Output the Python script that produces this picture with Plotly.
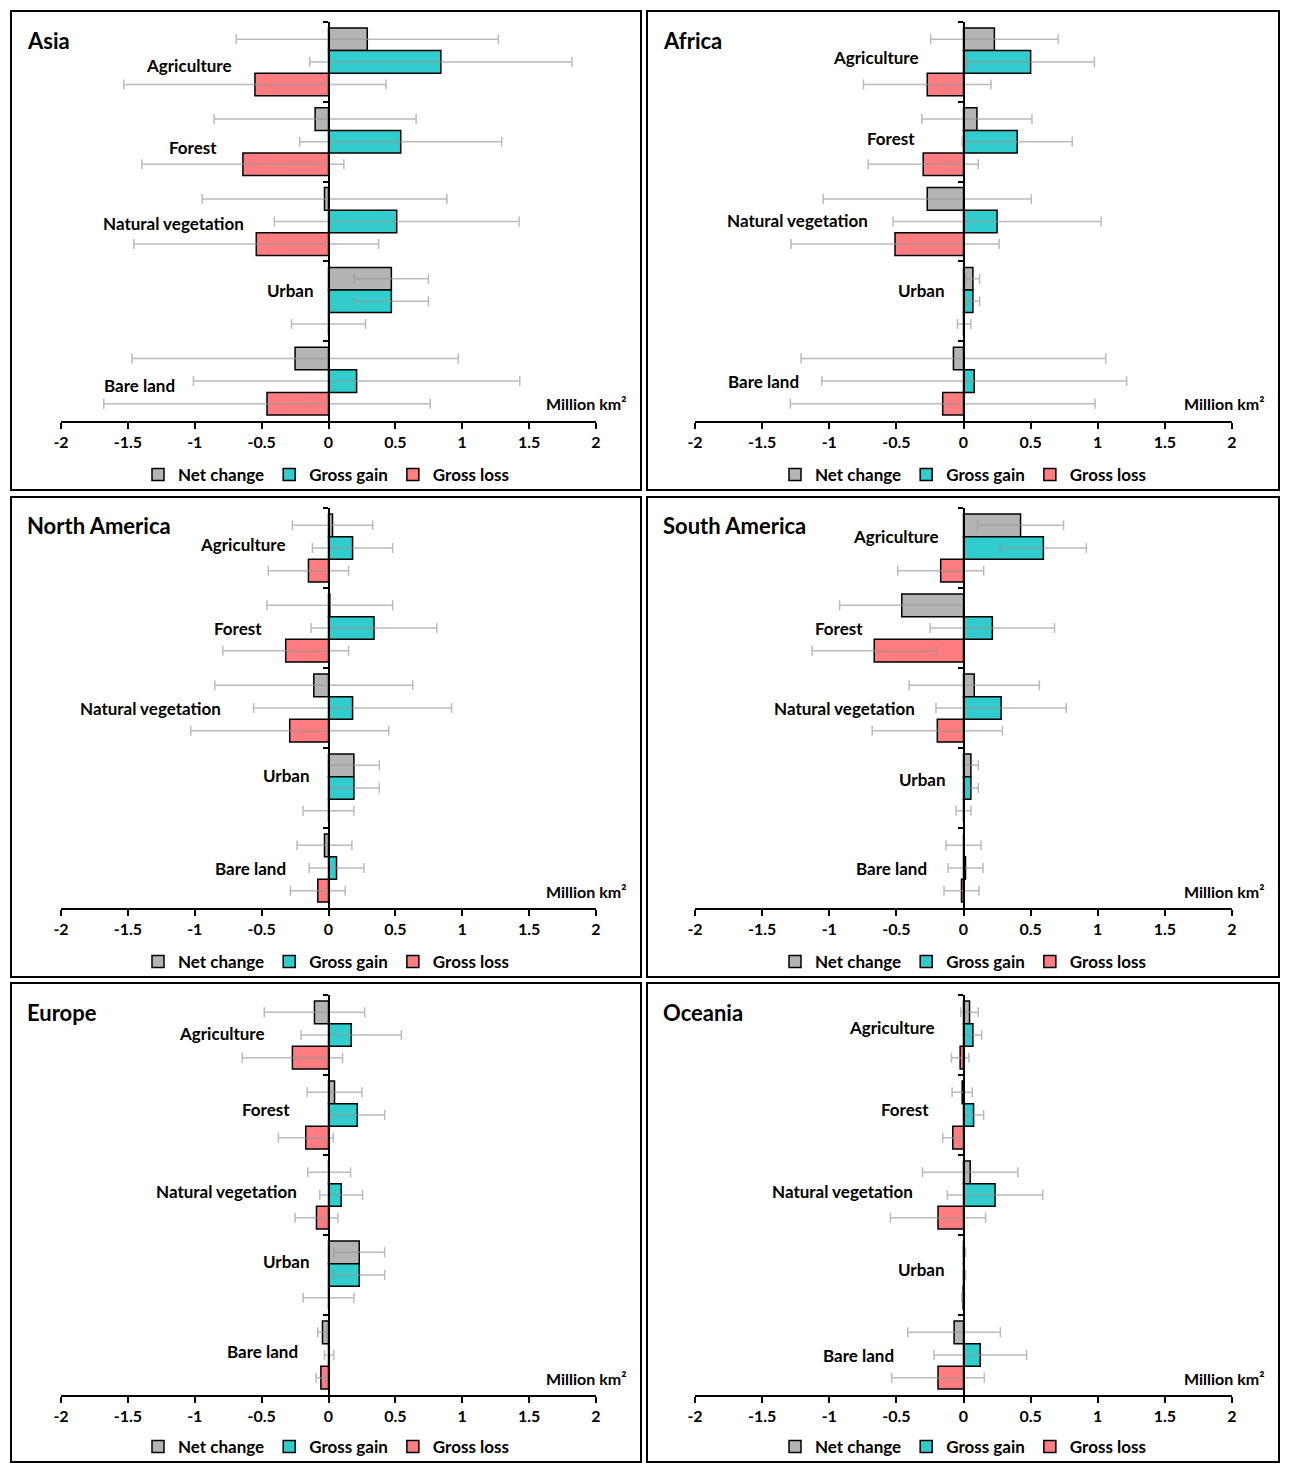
import plotly.graph_objects as go

# ---------------- data ----------------
categories = ["Agriculture", "Forest", "Natural vegetation", "Urban", "Bare land"]
regions = ["Asia", "Africa", "North America", "South America", "Europe", "Oceania"]
series_names = ["Net change", "Gross gain", "Gross loss"]

net_change = {
    "Asia": [0.29, -0.10, -0.03, 0.47, -0.25],
    "Africa": [0.23, 0.10, -0.27, 0.07, -0.075],
    "North America": [0.03, 0.01, -0.11, 0.19, -0.03],
    "South America": [0.425, -0.46, 0.08, 0.055, 0.0],
    "Europe": [-0.105, 0.045, 0.005, 0.23, -0.045],
    "Oceania": [0.045, -0.01, 0.05, 0.005, -0.07],
}
gross_gain = {
    "Asia": [0.84, 0.54, 0.51, 0.47, 0.21],
    "Africa": [0.50, 0.40, 0.25, 0.07, 0.08],
    "North America": [0.18, 0.34, 0.18, 0.19, 0.06],
    "South America": [0.595, 0.215, 0.28, 0.055, 0.015],
    "Europe": [0.17, 0.215, 0.095, 0.23, 0.005],
    "Oceania": [0.07, 0.075, 0.235, 0.005, 0.125],
}
gross_loss = {
    "Asia": [-0.55, -0.64, -0.54, 0.0, -0.46],
    "Africa": [-0.27, -0.30, -0.51, 0.005, -0.155],
    "North America": [-0.15, -0.32, -0.29, 0.0, -0.08],
    "South America": [-0.17, -0.665, -0.195, 0.0, -0.015],
    "Europe": [-0.27, -0.17, -0.09, 0.0, -0.057],
    "Oceania": [-0.025, -0.08, -0.19, -0.003, -0.19],
}
uncertainty = {
    "Asia": [0.98, 0.755, 0.915, 0.277, 1.22],
    "Africa": [0.475, 0.41, 0.775, 0.05, 1.135],
    "North America": [0.30, 0.47, 0.74, 0.19, 0.205],
    "South America": [0.32, 0.463, 0.485, 0.055, 0.13],
    "Europe": [0.375, 0.205, 0.16, 0.19, 0.035],
    "Oceania": [0.065, 0.075, 0.355, 0.01, 0.345],
}

x_tickvals = [-2, -1.5, -1, -0.5, 0, 0.5, 1, 1.5, 2]
x_ticktext = ["-2", "-1.5", "-1", "-0.5", "0", "0.5", "1", "1.5", "2"]
unit_label = "Million km\u00b2"

# ---------------- layout / style ----------------
W, H = 1289, 1464
colors = ["#B4B4B4", "#33CCCC", "#FF7C80"]
err_color = "rgba(150,150,150,0.65)"
FONT = "Lato"

# label placement (right edge in data units, vertical offset in category units)
label_x = {
    "Asia": [-0.71, -0.82, -0.62, -0.09, -1.13],
    "Africa": [-0.32, -0.35, -0.70, -0.12, -1.21],
    "North America": [-0.30, -0.485, -0.79, -0.127, -0.306],
    "South America": [-0.166, -0.73, -0.343, -0.112, -0.26],
    "Europe": [-0.463, -0.276, -0.224, -0.127, -0.21],
    "Oceania": [-0.20, -0.24, -0.36, -0.12, -0.50],
}
label_dy = {
    "Asia": [0.05, 0.07, 0.03, -0.14, 0.05],
    "Africa": [-0.06, -0.035, -0.01, -0.13, 0.0],
    "North America": [-0.05, 0.0, 0.0, -0.16, 0.0],
    "South America": [-0.14, 0.01, 0.0, -0.11, 0.01],
    "Europe": [-0.025, -0.075, -0.04, -0.175, -0.04],
    "Oceania": [-0.09, -0.075, -0.04, -0.075, 0.0],
}

col_x = [(61, 596), (695, 1232)]        # plot area x px
row_y = [(22, 421), (508, 908), (995, 1395)]  # plot area y px
box_x = [(11, 641), (647, 1279)]
box_y = [(11, 490), (497, 977), (983, 1462)]


def fx(px):
    return px / W


def fy(px):
    return 1 - px / H


fig = go.Figure()
layout = dict(
    template="none",
    width=W, height=H, margin=dict(l=0, r=0, t=0, b=0, autoexpand=False),
    paper_bgcolor="white", plot_bgcolor="white",
    barmode="group", bargap=0.15, bargroupgap=0.0,
    font=dict(family=FONT, size=16, color="black"),
)
annotations = []
shapes = []

for i, reg in enumerate(regions):
    n = i + 1
    r, c = divmod(i, 2)
    xs = "" if n == 1 else str(n)
    xd = [fx(col_x[c][0]), fx(col_x[c][1])]
    yd = [fy(row_y[r][1]), fy(row_y[r][0])]
    legname = "legend" if n == 1 else f"legend{n}"

    vals = [net_change[reg], gross_gain[reg], gross_loss[reg]]
    for s, name in enumerate(series_names):
        fig.add_trace(go.Bar(
            y=categories, x=vals[s], orientation="h", name=name,
            marker=dict(color=colors[s], line=dict(color="black", width=1.5)),
            error_x=dict(type="data", array=uncertainty[reg], color=err_color,
                         thickness=1.5, width=5),
            xaxis="x" + xs, yaxis="y" + xs, legend=legname, showlegend=True,
        ))

    layout["xaxis" + xs] = dict(
        domain=xd, anchor="y" + xs, range=[-2, 2], automargin=False,
        tickvals=x_tickvals, ticktext=x_ticktext,
        ticks="outside", ticklen=6, tickwidth=2, tickcolor="black",
        showline=True, linewidth=2, linecolor="black",
        showgrid=False, zeroline=False,
        tickfont=dict(family=FONT, size=16, color="black", weight="bold"),
        fixedrange=True,
    )
    layout["yaxis" + xs] = dict(
        domain=yd, type="category", categoryorder="array", categoryarray=categories,
        autorange="reversed", anchor="free", position=(xd[0] + xd[1]) / 2,
        automargin=False,
        showline=True, linewidth=2, linecolor="black",
        ticks="outside", tickson="boundaries", ticklen=5, tickwidth=2, tickcolor="black",
        showticklabels=False, showgrid=False, zeroline=False, fixedrange=True,
    )
    layout[legname] = dict(
        orientation="h", x=(fx(box_x[c][0]) + fx(box_x[c][1])) / 2, xanchor="center",
        y=fy(box_y[r][1] - 15), yanchor="middle", traceorder="normal",
        bgcolor="rgba(0,0,0,0)", borderwidth=0, itemwidth=30, tracegroupgap=0,
        font=dict(family=FONT, size=17, color="black", weight="bold"),
    )

    # category labels
    for k, cat in enumerate(categories):
        annotations.append(dict(
            text=cat, x=label_x[reg][k], y=k + label_dy[reg][k],
            xref="x" + xs, yref="y" + xs, xanchor="right", yanchor="middle",
            showarrow=False, font=dict(family=FONT, size=17, color="black", weight="bold"),
        ))
    # panel title
    annotations.append(dict(
        text=reg, x=fx(box_x[c][0] + 14), y=fy(row_y[r][0] + 19 if r == 0 else row_y[r][0] + 17),
        xref="paper", yref="paper", xanchor="left", yanchor="middle", showarrow=False,
        font=dict(family=FONT, size=22, color="black", weight="bold"),
    ))
    # unit label
    annotations.append(dict(
        text=unit_label, x=fx(box_x[c][1] - 12), y=fy(row_y[r][1] - 17),
        xref="paper", yref="paper", xanchor="right", yanchor="middle", showarrow=False,
        font=dict(family=FONT, size=16, color="black", weight="bold"),
    ))
    # panel frame
    shapes.append(dict(
        type="rect", xref="paper", yref="paper",
        x0=fx(box_x[c][0]), x1=fx(box_x[c][1]), y0=fy(box_y[r][1]), y1=fy(box_y[r][0]),
        line=dict(color="black", width=2), fillcolor="rgba(0,0,0,0)",
    ))

layout["annotations"] = annotations
layout["shapes"] = shapes
fig.update_layout(**layout)

fig.write_html(
    "out.html",
    config={"displayModeBar": False},
    post_script="document.body.style.margin='0';document.body.style.overflow='hidden';",
)
